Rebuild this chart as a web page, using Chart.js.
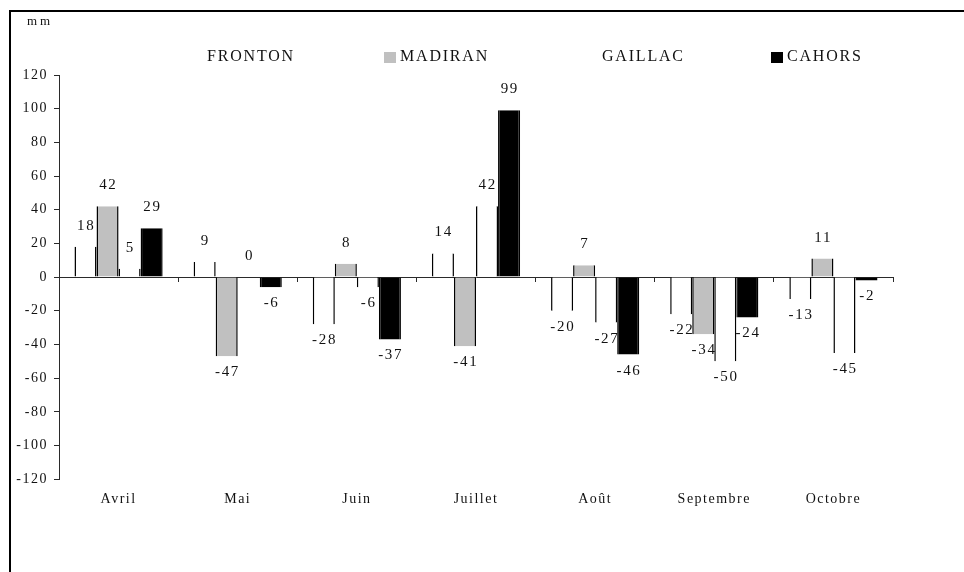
<!DOCTYPE html>
<html lang="fr">
<head>
<meta charset="utf-8">
<title>Écarts de pluviométrie par vignoble</title>
<script src="https://cdn.jsdelivr.net/npm/chart.js@4.4.1/dist/chart.umd.min.js"></script>
<style>
  html, body { margin: 0; padding: 0; background: #fff; overflow: hidden; }
  body { width: 964px; height: 572px; position: relative; }
  #frame {
    position: absolute; left: 9px; top: 10px;
    width: 1100px; height: 700px;
    border: 2px solid #000; box-sizing: border-box; background: #fff;
  }
  #chart { position: absolute; left: 0; top: 0; }
</style>
</head>
<body>
<div id="frame"><canvas id="chart" width="1024" height="600" style="width:1024px;height:600px"></canvas></div>
<script>
// Monthly deviation (mm) for the four appellations
const categories = ['Avril', 'Mai', 'Juin', 'Juillet', 'Août', 'Septembre', 'Octobre'];
const seriesNames = ['FRONTON', 'MADIRAN', 'GAILLAC', 'CAHORS'];
const fronton = [18, 9, -28, 14, -20, -22, -13];
const madiran = [42, -47, 8, -41, 7, -34, 11];
const gaillac = [5, 0, -6, 42, -27, -50, -45];
const cahors  = [29, -6, -37, 99, -46, -24, -2];
const yTickValues = [-120, -100, -80, -60, -40, -20, 0, 20, 40, 60, 80, 100, 120];
const unitLabel = 'mm';

const FONT = "'Liberation Serif', 'Times New Roman', serif";
const INK = '#111111';
const AXIS = '#2a2a2a';
const fills = ['#ffffff', '#c0c0c0', '#ffffff', '#000000'];

function setSpacing(ctx, px) {
  if ('letterSpacing' in ctx) ctx.letterSpacing = px + 'px';
}

// Wider glyph spacing for all library-drawn text
const spacingPlugin = {
  id: 'spacing',
  beforeUpdate(chart) { setSpacing(chart.ctx, 1.5); },
  beforeLayout(chart) { setSpacing(chart.ctx, 1.5); },
  beforeDraw(chart) { setSpacing(chart.ctx, 1.5); }
};

// Unit label and legend row above the plot
const headerRow = {
  id: 'headerRow',
  afterDraw(chart) {
    const ctx = chart.ctx;
    ctx.save();
    ctx.textBaseline = 'middle';
    ctx.textAlign = 'left';
    ctx.fillStyle = INK;
    setSpacing(ctx, 3);
    ctx.font = '13px ' + FONT;
    ctx.fillText(unitLabel, 16, 10);

    const slots = [180, 373, 575, 760];
    const yMid = 45;
    setSpacing(ctx, 1.8);
    ctx.font = '16px ' + FONT;
    chart.data.datasets.forEach((ds, i) => {
      const x = slots[i];
      ctx.fillStyle = ds.backgroundColor;
      ctx.fillRect(x, yMid - 5, 12, 11);
      ctx.fillStyle = INK;
      ctx.fillText(ds.label, x + 16, yMid);
    });
    ctx.restore();
  }
};

// Value written above positive bars and below negative ones
const valueLabels = {
  id: 'valueLabels',
  afterDatasetsDraw(chart) {
    const ctx = chart.ctx;
    ctx.save();
    setSpacing(ctx, 1.7);
    ctx.font = '15px ' + FONT;
    ctx.fillStyle = INK;
    ctx.textAlign = 'center';
    ctx.textBaseline = 'middle';
    chart.data.datasets.forEach((ds, di) => {
      const meta = chart.getDatasetMeta(di);
      meta.data.forEach((bar, i) => {
        const v = ds.data[i];
        const y = v >= 0 ? bar.y - 21 : bar.y + 16;
        ctx.fillText(String(v), bar.x + 0.8, y);
      });
    });
    ctx.restore();
  }
};

const series = [fronton, madiran, gaillac, cahors];

new Chart(document.getElementById('chart'), {
  type: 'bar',
  data: {
    labels: categories,
    datasets: series.map((values, i) => ({
      label: seriesNames[i],
      data: values,
      backgroundColor: fills[i],
      borderColor: '#000',
      borderWidth: { left: 1.5, right: 1.5, top: 0, bottom: 0 },
      inflateAmount: 0,
      categoryPercentage: 0.74,
      barPercentage: 1.0,
      xAxisID: 'x'
    }))
  },
  options: {
    responsive: false,
    animation: false,
    layout: { padding: { left: 4, right: 142, top: 63, bottom: 92 } },
    plugins: {
      legend: { display: false },
      tooltip: { enabled: false },
      title: { display: false }
    },
    scales: {
      x: {
        type: 'category',
        position: 'bottom',
        offset: true,
        border: { display: false },
        grid: { display: false, drawTicks: false },
        ticks: { color: INK, font: { family: FONT, size: 14 }, padding: 12, maxRotation: 0 }
      },
      xZero: {
        type: 'category',
        axis: 'x',
        labels: categories,
        position: { y: 0 },
        offset: true,
        border: { display: true, color: AXIS, width: 1 },
        grid: { display: true, offset: true, drawOnChartArea: false, drawTicks: true, tickLength: 4, color: AXIS },
        ticks: { display: false }
      },
      y: {
        type: 'linear',
        position: 'left',
        min: yTickValues[0],
        max: yTickValues[yTickValues.length - 1],
        afterBuildTicks(scale) { scale.ticks = yTickValues.map(v => ({ value: v })); },
        afterFit(scale) { scale.width = 44; },
        border: { display: true, color: AXIS, width: 1 },
        grid: { display: true, drawOnChartArea: false, drawTicks: true, tickLength: 5, color: AXIS },
        ticks: {
          color: INK,
          font: { family: FONT, size: 14 },
          padding: 6,
          callback: v => String(v)
        }
      }
    }
  },
  plugins: [spacingPlugin, headerRow, valueLabels]
});
</script>
</body>
</html>
